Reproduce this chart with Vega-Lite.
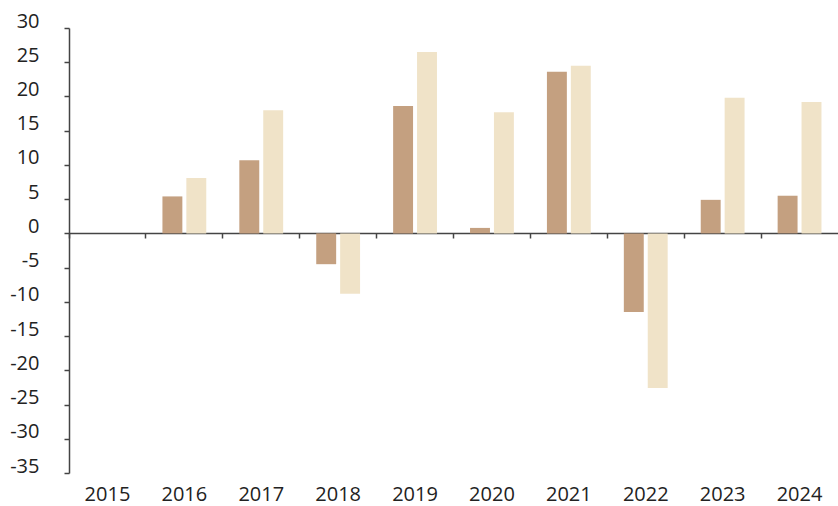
{
  "$schema": "https://vega.github.io/schema/vega-lite/v6.json",
  "autosize": "none",
  "width": 769,
  "height": 445,
  "padding": {"left": 69, "top": 28, "right": 0, "bottom": 33},
  "background": "white",
  "config": {"view": {"stroke": null}, "font": "Open Sans"},
  "data": {"values": [
    {"year": "2016", "series": "A", "value": 5.4},
    {"year": "2016", "series": "B", "value": 8.1},
    {"year": "2017", "series": "A", "value": 10.7},
    {"year": "2017", "series": "B", "value": 18.0},
    {"year": "2018", "series": "A", "value": -4.5},
    {"year": "2018", "series": "B", "value": -8.8},
    {"year": "2019", "series": "A", "value": 18.6},
    {"year": "2019", "series": "B", "value": 26.5},
    {"year": "2020", "series": "A", "value": 0.8},
    {"year": "2020", "series": "B", "value": 17.7},
    {"year": "2021", "series": "A", "value": 23.6},
    {"year": "2021", "series": "B", "value": 24.5},
    {"year": "2022", "series": "A", "value": -11.5},
    {"year": "2022", "series": "B", "value": -22.6},
    {"year": "2023", "series": "A", "value": 4.9},
    {"year": "2023", "series": "B", "value": 19.8},
    {"year": "2024", "series": "A", "value": 5.5},
    {"year": "2024", "series": "B", "value": 19.2}
  ]},
  "mark": {"type": "bar"},
  "encoding": {
    "x": {
      "field": "year", "type": "nominal",
      "scale": {"domain": ["2015","2016","2017","2018","2019","2020","2021","2022","2023","2024"], "paddingInner": 0.43, "paddingOuter": 0.215},
      "axis": {
        "title": null, "labelAngle": 0, "orient": "bottom", "offset": -240,
        "bandPosition": -0.377, "ticks": true, "tickSize": 5, "tickColor": "#444444", "tickWidth": 1.5,
        "domainColor": "#444444", "domainWidth": 1.5,
        "labelPadding": 246, "labelFontSize": 20, "labelColor": "#222222", "labelFont": "Open Sans"
      }
    },
    "xOffset": {"field": "series", "type": "nominal", "scale": {"paddingInner": 0.1667}},
    "y": {
      "field": "value", "type": "quantitative",
      "scale": {"domain": [-35, 30], "nice": false, "zero": false},
      "axis": {
        "title": null, "values": [-35,-30,-25,-20,-15,-10,-5,0,5,10,15,20,25,30],
        "labelExpr": "toString(datum.value)",
        "grid": false, "tickSize": 5, "tickColor": "#444444", "tickWidth": 1.5,
        "domainColor": "#444444", "domainWidth": 1.5,
        "labelPadding": 25, "labelOffset": -7, "labelFontSize": 20, "labelColor": "#222222", "labelFont": "Open Sans"
      }
    },
    "color": {
      "field": "series", "type": "nominal",
      "scale": {"domain": ["A","B"], "range": ["#c4a080", "#f0e3c8"]},
      "legend": null
    }
  }
}
